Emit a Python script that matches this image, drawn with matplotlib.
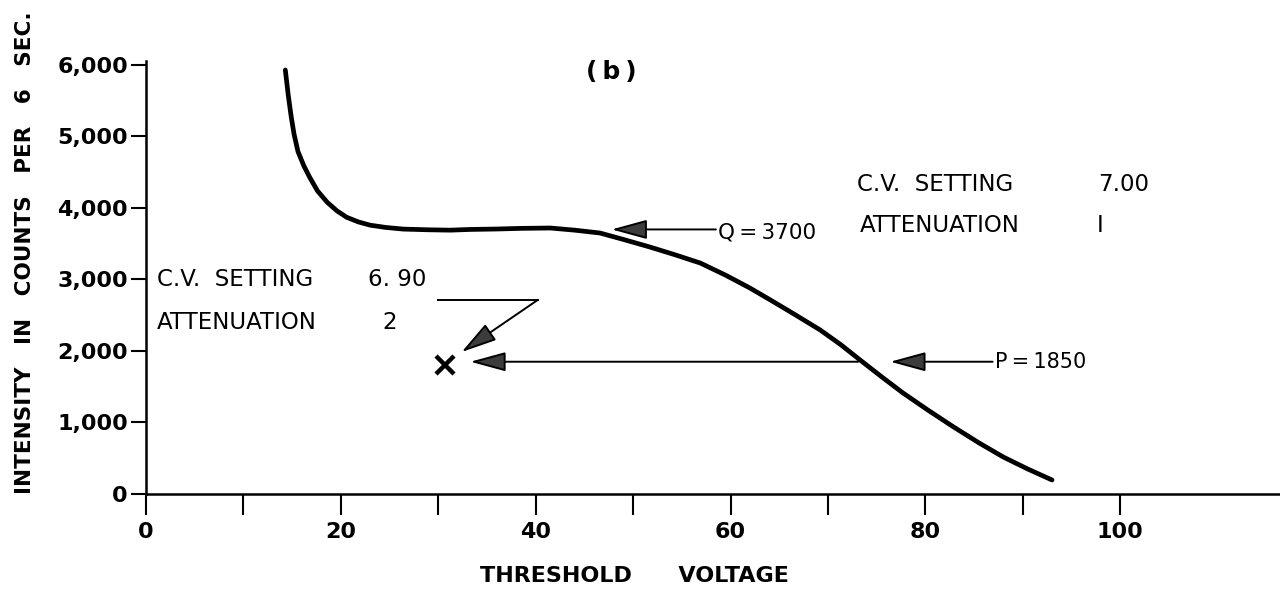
import matplotlib
matplotlib.use("Agg")
import matplotlib.pyplot as plt

# curve
volts = [14.3, 14.6, 14.9, 15.2, 15.6, 16.2, 16.8, 17.6, 18.6, 19.6, 20.6, 21.8,
         23.0, 24.6, 26.4, 29.0, 31.2, 33.3, 36.0, 38.5, 41.5, 44.0, 46.6, 49.0,
         51.7, 54.2, 56.9, 59.5, 62.0, 64.1, 66.6, 69.2, 71.3, 73.3, 75.5, 77.7,
         80.3, 82.9, 85.5, 88.0, 90.5, 93.0]
counts = [5930, 5580, 5280, 5030, 4790, 4590, 4430, 4240, 4080, 3960, 3870, 3805,
          3760, 3728, 3705, 3695, 3690, 3700, 3706, 3715, 3720, 3690, 3650, 3560,
          3455, 3350, 3230, 3060, 2880, 2713, 2510, 2294, 2090, 1874, 1640, 1413,
          1170, 937, 715, 517, 350, 196]

x_ticks = [0, 10, 20, 30, 40, 50, 60, 70, 80, 90, 100]
x_labels = ["0", "", "20", "", "40", "", "60", "", "80", "", "100"]
y_ticks = [0, 1000, 2000, 3000, 4000, 5000, 6000]
y_labels = ["0", "1,000", "2,000", "3,000", "4,000", "5,000", "6,000"]

q_value = 3700
p_value = 1850
cross_x, cross_y = 30.7, 1810

TS = "\u2009"  # thin space

fig = plt.figure(figsize=(12.8, 5.89), dpi=100)
ax = fig.add_axes([146 / 1280, 95 / 589, 1134 / 1280, 433.3 / 589])
ax.set_xlim(0, 116.4)
ax.set_ylim(0, 6060)

for s in ["top", "right"]:
    ax.spines[s].set_visible(False)
for s in ["left", "bottom"]:
    ax.spines[s].set_linewidth(1.8)

ax.set_xticks(x_ticks)
ax.set_xticklabels(x_labels)
ax.set_yticks(y_ticks)
ax.set_yticklabels(y_labels)
ax.tick_params(axis="x", direction="out", length=15, width=1.5, pad=5, labelsize=16)
ax.tick_params(axis="y", direction="out", length=11, width=1.5, pad=2, labelsize=16)
for lab in ax.get_xticklabels() + ax.get_yticklabels():
    lab.set_fontweight("bold")

ax.plot(volts, counts, color="black", lw=3.4, solid_capstyle="round",
        solid_joinstyle="round")

# X marker
ax.plot([cross_x], [cross_y], marker="x", color="black", ms=13, mew=3.2)

head = dict(arrowstyle="-|>,head_length=1.1,head_width=0.3", fc="#3c3c3c",
            ec="black", lw=1.4, shrinkA=0, shrinkB=0, mutation_scale=20)

# Q arrow
ax.annotate("", xy=(47.8, q_value), xytext=(58.5, q_value), arrowprops=head)
ax.text(58.7, q_value - 40, f"Q{TS}={TS}3700", fontsize=15.5, va="center", ha="left")

# P arrow
ax.annotate("", xy=(76.4, p_value), xytext=(86.9, p_value), arrowprops=head)
ax.text(87.1, p_value, f"P{TS}={TS}1850", fontsize=15, va="center", ha="left")

# long arrow from curve to X
ax.annotate("", xy=(33.3, p_value), xytext=(73.1, p_value), arrowprops=head)

# Z-shaped pointer
ax.plot([30.0, 40.2], [2713, 2713], color="black", lw=1.4)
ax.annotate("", xy=(32.4, 1986), xytext=(40.2, 2713), arrowprops=head)

ax.text(47.8, 5900, f"({TS}b{TS})", fontsize=18, fontweight="bold",
        ha="center", va="center")

fs = 16.5
ax.text(73.0, 4335, "C.V.  SETTING", fontsize=fs, va="center")
ax.text(97.7, 4335, "7.00", fontsize=fs, va="center")
ax.text(73.3, 3750, "ATTENUATION", fontsize=fs, va="center")
ax.text(97.6, 3750, "I", fontsize=fs, va="center")

ax.text(1.1, 2993, "C.V.  SETTING", fontsize=fs, va="center")
ax.text(22.8, 2993, "6. 90", fontsize=fs, va="center")
ax.text(1.1, 2392, "ATTENUATION", fontsize=fs, va="center")
ax.text(24.3, 2392, "2", fontsize=fs, va="center")

ax.set_ylabel("INTENSITY   IN   COUNTS   PER   6   SEC.", fontsize=15.5,
              fontweight="bold", va="center")
ax.yaxis.set_label_coords(-0.107, 0.558)
ax.set_xlabel("THRESHOLD      VOLTAGE", fontsize=16, fontweight="bold", va="center")
ax.xaxis.set_label_coords(0.431, -0.19)

fig.savefig("out.png", dpi=100)
